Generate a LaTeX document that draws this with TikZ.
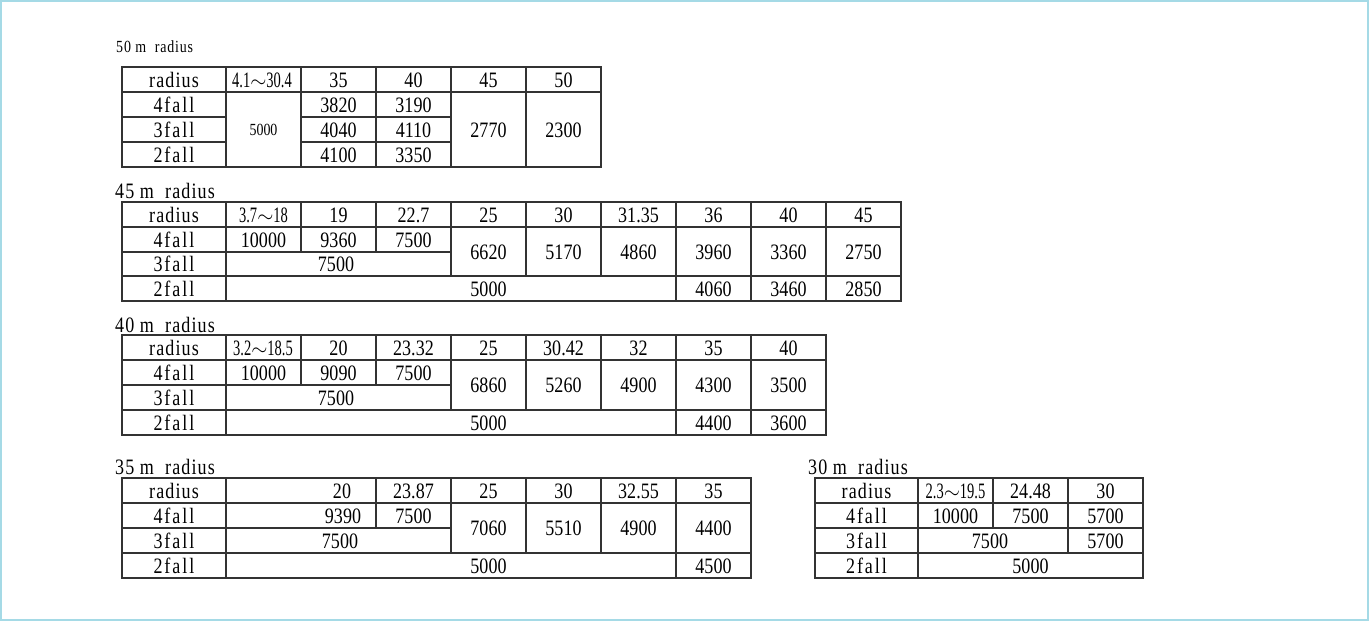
\documentclass[tikz,border=0pt]{standalone}
\usepackage{fontspec}
\setmainfont{Liberation Serif}[FakeStretch=0.82]
\newfontfamily\wordfont{Liberation Serif}[FakeStretch=0.82,LetterSpace=5]
\newfontfamily\fallfont{Liberation Serif}[FakeStretch=0.82,LetterSpace=9]
\newfontfamily\narrowfont{Liberation Serif}[FakeStretch=0.66]
\definecolor{framecol}{RGB}{165,218,230}
\begin{document}
\begin{tikzpicture}
[x=1pt,y=-1pt,
val/.style={inner sep=0pt,text height=15pt,text depth=0pt,font=\fontsize{22}{22}\selectfont},
nval/.style={val,font=\narrowfont\fontsize{22}{22}\selectfont},
sval/.style={inner sep=0pt,text height=11.5pt,text depth=0pt,font=\fontsize{17}{17}\selectfont},
word/.style={val,font=\wordfont\fontsize{22}{22}\selectfont},
fall/.style={val,font=\fallfont\fontsize{22}{22}\selectfont},
head/.style={anchor=west,inner sep=0pt,font=\wordfont\fontsize{22}{22}\selectfont},
rule/.style={draw=black!80,line width=1.3pt}]
\useasboundingbox (0,0) rectangle (1369,621);
\draw[framecol,line width=2pt] (1,1) rectangle (1368,620);
% 50 m
\node[head,font=\wordfont\fontsize{17}{17}\selectfont] (t50) at (116,47) {50 m\ \ radius};
\draw[rule] (122,67) rectangle (601,167);
\draw[rule] (122,92) -- (601,92);
\draw[rule] (122,117) -- (226,117) (301,117) -- (451,117);
\draw[rule] (122,142) -- (226,142) (301,142) -- (451,142);
\draw[rule] (226,67) -- (226,167) (301,67) -- (301,167) (376,67) -- (376,167);
\draw[rule] (451,67) -- (451,167) (526,67) -- (526,167);
\node[word] (h50) at (174,79.5) {radius};
\node[nval] (h50a) at (262,79.5) {4.1$\sim$30.4};
\node[val] (h50b) at (338.5,79.5) {35};
\node[val] (h50c) at (413.5,79.5) {40};
\node[val] (h50d) at (488.5,79.5) {45};
\node[val] (h50e) at (563.5,79.5) {50};
\node[fall] (f50d) at (174,104.5) {4fall};
\node[fall] (f50c) at (174,129.5) {3fall};
\node[fall] (f50b) at (174,154.5) {2fall};
\node[sval] (v50a) at (263.5,129.5) {5000};
\node[val] (v50b4) at (338.5,104.5) {3820};
\node[val] (v50b3) at (338.5,129.5) {4040};
\node[val] (v50b2) at (338.5,154.5) {4100};
\node[val] (v50c4) at (413.5,104.5) {3190};
\node[val] (v50c3) at (413.5,129.5) {4110};
\node[val] (v50c2) at (413.5,154.5) {3350};
\node[val] (v50d) at (488.5,129.5) {2770};
\node[val] (v50e) at (563.5,129.5) {2300};
% 45 m
\node[head] (t45) at (115,191) {45 m\ \ radius};
\draw[rule] (122,202) rectangle (901,301);
\draw[rule] (122,227) -- (901,227) (122,252) -- (451,252) (122,276) -- (901,276);
\draw[rule] (226,202) -- (226,301) (301,202) -- (301,252) (376,202) -- (376,252);
\draw[rule] (451,202) -- (451,276) (526,202) -- (526,276) (601,202) -- (601,276);
\draw[rule] (676,202) -- (676,301) (751,202) -- (751,301) (826,202) -- (826,301);
\node[word] (h45) at (174,214.5) {radius};
\node[nval] (h45a) at (263.5,214.5) {3.7$\sim$18};
\node[val] (h45b) at (338.5,214.5) {19};
\node[val] (h45c) at (413.5,214.5) {22.7};
\node[val] (h45d) at (488.5,214.5) {25};
\node[val] (h45e) at (563.5,214.5) {30};
\node[val] (h45f) at (638.5,214.5) {31.35};
\node[val] (h45g) at (713.5,214.5) {36};
\node[val] (h45h) at (788.5,214.5) {40};
\node[val] (h45i) at (863.5,214.5) {45};
\node[fall] (f45d) at (174,239.5) {4fall};
\node[fall] (f45c) at (174,264) {3fall};
\node[fall] (f45b) at (174,288.5) {2fall};
\node[val] (v45a) at (263.5,239.5) {10000};
\node[val] (v45b) at (338.5,239.5) {9360};
\node[val] (v45c) at (413.5,239.5) {7500};
\node[val] (v45d) at (488.5,251.5) {6620};
\node[val] (v45e) at (563.5,251.5) {5170};
\node[val] (v45f) at (638.5,251.5) {4860};
\node[val] (v45g) at (713.5,251.5) {3960};
\node[val] (v45h) at (788.5,251.5) {3360};
\node[val] (v45i) at (863.5,251.5) {2750};
\node[val] (w45) at (336,264) {7500};
\node[val] (u45) at (488.5,288.5) {5000};
\node[val] (u45g) at (713.5,288.5) {4060};
\node[val] (u45h) at (788.5,288.5) {3460};
\node[val] (u45i) at (863.5,288.5) {2850};
% 40 m
\node[head] (t40) at (115,325) {40 m\ \ radius};
\draw[rule] (122,335) rectangle (826,435);
\draw[rule] (122,360) -- (826,360) (122,385) -- (451,385) (122,410) -- (826,410);
\draw[rule] (226,335) -- (226,435) (301,335) -- (301,385) (376,335) -- (376,385);
\draw[rule] (451,335) -- (451,410) (526,335) -- (526,410) (601,335) -- (601,410);
\draw[rule] (676,335) -- (676,435) (751,335) -- (751,435);
\node[word] (h40) at (174,347.5) {radius};
\node[nval] (h40a) at (263,347.5) {3.2$\sim$18.5};
\node[val] (h40b) at (338.5,347.5) {20};
\node[val] (h40c) at (413.5,347.5) {23.32};
\node[val] (h40d) at (488.5,347.5) {25};
\node[val] (h40e) at (563.5,347.5) {30.42};
\node[val] (h40f) at (638.5,347.5) {32};
\node[val] (h40g) at (713.5,347.5) {35};
\node[val] (h40h) at (788.5,347.5) {40};
\node[fall] (f40d) at (174,372.5) {4fall};
\node[fall] (f40c) at (174,397.5) {3fall};
\node[fall] (f40b) at (174,422.5) {2fall};
\node[val] (v40a) at (263.5,372.5) {10000};
\node[val] (v40b) at (338.5,372.5) {9090};
\node[val] (v40c) at (413.5,372.5) {7500};
\node[val] (v40d) at (488.5,385) {6860};
\node[val] (v40e) at (563.5,385) {5260};
\node[val] (v40f) at (638.5,385) {4900};
\node[val] (v40g) at (713.5,385) {4300};
\node[val] (v40h) at (788.5,385) {3500};
\node[val] (w40) at (336,397.5) {7500};
\node[val] (u40) at (488.5,422.5) {5000};
\node[val] (u40g) at (713.5,422.5) {4400};
\node[val] (u40h) at (788.5,422.5) {3600};
% 35 m
\node[head] (t35) at (115,467) {35 m\ \ radius};
\draw[rule] (122,478) rectangle (751,578);
\draw[rule] (122,503) -- (751,503) (122,528) -- (451,528) (122,553) -- (751,553);
\draw[rule] (226,478) -- (226,578) (376,478) -- (376,528);
\draw[rule] (451,478) -- (451,553) (526,478) -- (526,553) (601,478) -- (601,553);
\draw[rule] (676,478) -- (676,578);
\node[word] (h35) at (174,490.5) {radius};
\node[val] (h35b) at (342,490.5) {20};
\node[val] (h35c) at (413.5,490.5) {23.87};
\node[val] (h35d) at (488.5,490.5) {25};
\node[val] (h35e) at (563.5,490.5) {30};
\node[val] (h35f) at (638.5,490.5) {32.55};
\node[val] (h35g) at (713.5,490.5) {35};
\node[fall] (f35d) at (174,515.5) {4fall};
\node[fall] (f35c) at (174,540.5) {3fall};
\node[fall] (f35b) at (174,565.5) {2fall};
\node[val] (v35b) at (343,515.5) {9390};
\node[val] (v35c) at (413.5,515.5) {7500};
\node[val] (v35d) at (488.5,528) {7060};
\node[val] (v35e) at (563.5,528) {5510};
\node[val] (v35f) at (638.5,528) {4900};
\node[val] (v35g) at (713.5,528) {4400};
\node[val] (w35) at (340,540.5) {7500};
\node[val] (u35) at (488.5,565.5) {5000};
\node[val] (u35g) at (713.5,565.5) {4500};
% 30 m
\node[head] (t30) at (808,467) {30 m\ \ radius};
\draw[rule] (815,478) rectangle (1143,578);
\draw[rule] (815,503) -- (1143,503) (815,528) -- (1143,528) (815,553) -- (1143,553);
\draw[rule] (918,478) -- (918,578) (993,478) -- (993,528) (1068,478) -- (1068,553);
\node[word] (h30) at (866.5,490.5) {radius};
\node[nval] (h30a) at (955.5,490.5) {2.3$\sim$19.5};
\node[val] (h30b) at (1030.5,490.5) {24.48};
\node[val] (h30c) at (1105.5,490.5) {30};
\node[fall] (f30d) at (866.5,515.5) {4fall};
\node[fall] (f30c) at (866.5,540.5) {3fall};
\node[fall] (f30b) at (866.5,565.5) {2fall};
\node[val] (v30a) at (955.5,515.5) {10000};
\node[val] (v30b) at (1030.5,515.5) {7500};
\node[val] (v30c) at (1105.5,515.5) {5700};
\node[val] (w30) at (990,540.5) {7500};
\node[val] (w30c) at (1105.5,540.5) {5700};
\node[val] (u30) at (1030.5,565.5) {5000};
\end{tikzpicture}
\end{document}
